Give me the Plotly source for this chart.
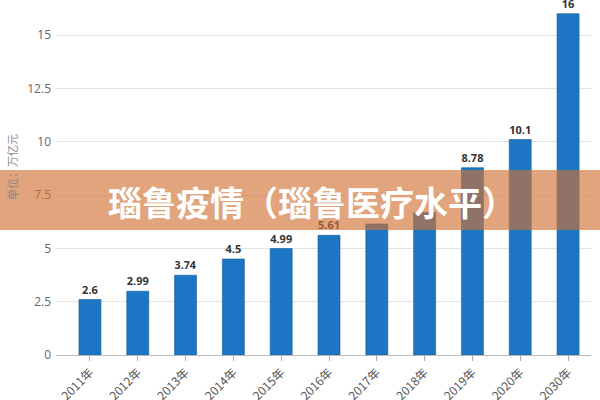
import plotly.graph_objects as go

years = ["2011年", "2012年", "2013年", "2014年", "2015年", "2016年",
         "2017年", "2018年", "2019年", "2020年", "2030年"]
values = [2.6, 2.99, 3.74, 4.5, 4.99, 5.61, 6.14, 6.68, 8.78, 10.1, 16]
label_visible = [True, True, True, True, True, True, False, False, True, True, True]
y_ticks = [0, 2.5, 5, 7.5, 10, 12.5, 15]
title_text = "瑙鲁疫情（瑙鲁医疗水平）"
y_title = "单位：万亿元"

W, H = 600, 400
ML, MR, MT, MB = 56, 9, 3, 45
pw, ph = W - ML - MR, H - MT - MB

def px_x(px):
    return (px - ML) / pw

def px_y(py):
    return (H - MB - py) / ph

labels = [(f"{v:g}" if show else "") for v, show in zip(values, label_visible)]

fig = go.Figure()
fig.add_trace(go.Bar(
    x=years, y=values, width=0.46,
    marker=dict(color="rgb(28,118,196)", line=dict(color="rgb(22,90,150)", width=0.6)),
    text=labels, textposition="outside", cliponaxis=False,
    textfont=dict(family="Open Sans, DejaVu Sans", size=11, color="#333333", weight="bold"),
    hoverinfo="skip",
))

fig.update_layout(
    width=W, height=H,
    margin=dict(l=ML, r=MR, t=MT, b=MB, autoexpand=False),
    paper_bgcolor="white", plot_bgcolor="white",
    showlegend=False,
    font=dict(family="Open Sans, Noto Sans CJK SC, sans-serif"),
    xaxis=dict(
        type="category", range=[-0.71, 10.48], automargin=False,
        tickangle=-45, ticks="outside", ticklen=5, tickcolor="#aaaaaa",
        tickfont=dict(size=12, color="#555555", family="Noto Sans CJK SC"),
        showline=True, linecolor="#bbbbbb", linewidth=1, showgrid=False,
    ),
    yaxis=dict(
        range=[0, 16.5], tickvals=y_ticks, ticktext=[f"{t:g}" for t in y_ticks],
        tickfont=dict(size=12, color="#666666"), automargin=False,
        showgrid=True, gridcolor="#e3e3e3", gridwidth=1,
        zeroline=False, showline=False, ticklabelstandoff=4,
    ),
    shapes=[dict(
        type="rect", xref="paper", yref="paper",
        x0=px_x(0), x1=px_x(W), y0=px_y(230), y1=px_y(170),
        fillcolor="rgba(208,112,52,0.64)", line=dict(width=0), layer="above",
    )],
    annotations=[
        dict(text=title_text, xref="paper", yref="paper",
             x=px_x(312), y=px_y(201), showarrow=False,
             font=dict(family="Noto Sans CJK SC", size=34, color="white", weight="bold"),
             xanchor="center", yanchor="middle"),
        dict(text=y_title, xref="paper", yref="paper",
             x=px_x(12), y=px_y(167), showarrow=False, textangle=-90,
             font=dict(family="Noto Sans CJK SC", size=11, color="#888888"),
             xanchor="center", yanchor="middle"),
    ],
)

fig.write_html("out.html", config={"displayModeBar": False},
               post_script="document.body.style.margin='0';document.body.style.overflow='hidden';")
